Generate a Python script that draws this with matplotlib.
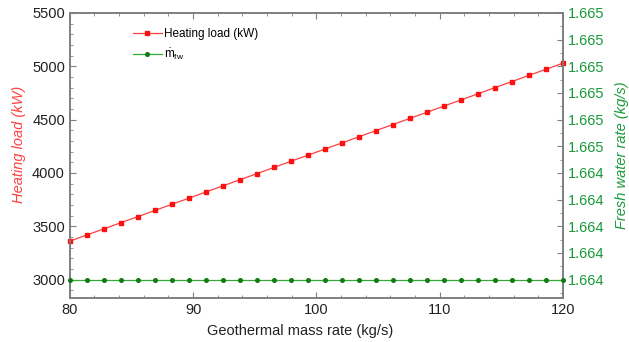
import matplotlib.pyplot as plt
from matplotlib.ticker import MultipleLocator, FixedLocator, FixedFormatter
from matplotlib.lines import Line2D

plt.rcParams['font.family'] = ['Liberation Sans', 'DejaVu Sans']
plt.rcParams['mathtext.fontset'] = 'custom'
plt.rcParams['mathtext.rm'] = 'Liberation Sans'
plt.rcParams['mathtext.it'] = 'Liberation Sans:italic'

# geothermal mass rate (kg/s)
mass_rate = [80.0, 81.38, 82.76, 84.14, 85.52, 86.90, 88.28, 89.66, 91.03, 92.41,
             93.79, 95.17, 96.55, 97.93, 99.31, 100.69, 102.07, 103.45, 104.83, 106.21,
             107.59, 108.97, 110.34, 111.72, 113.10, 114.48, 115.86, 117.24, 118.62, 120.0]
# heating load (kW)
heating_load = [3360, 3418, 3475, 3533, 3590, 3648, 3706, 3763, 3821, 3878,
                3936, 3993, 4051, 4109, 4166, 4224, 4281, 4339, 4397, 4454,
                4512, 4569, 4627, 4684, 4742, 4800, 4857, 4915, 4972, 5030]
# fresh water rate (kg/s)
fresh_water = [1.664] * 30

right_ticks = [1.6640, 1.6641, 1.6642, 1.6643, 1.6644, 1.6645,
               1.6646, 1.6647, 1.6648, 1.6649, 1.6650]
right_labels = ['1.664', '1.664', '1.664', '1.664', '1.664', '1.665',
                '1.665', '1.665', '1.665', '1.665', '1.665']

red = '#ff4040'
green = '#1a9a3a'
spine_grey = '#7f7f7f'

fig = plt.figure(figsize=(6.29, 3.42), dpi=100)
ax1 = fig.add_axes([0.111, 0.129, 0.784, 0.833])
ax2 = ax1.twinx()

ax1.plot(mass_rate, heating_load, color=red, lw=0.9, marker='s', ms=2.6,
         mec='#ff1010', mfc='#ff1010', clip_on=False, zorder=3)
ax2.plot(mass_rate, fresh_water, color='#33aa33', lw=0.9, marker='o', ms=2.6,
         mec='#117a11', mfc='#117a11', clip_on=False, zorder=3)

ylo, yhi = 2828, 5500
ax1.set_xlim(80, 120)
ax1.set_ylim(ylo, yhi)
ax2.set_ylim(1.664 + (ylo - 3000) / 2500 * 0.001, 1.665)

ax1.xaxis.set_major_locator(MultipleLocator(10))
ax1.xaxis.set_minor_locator(MultipleLocator(2))
ax1.yaxis.set_major_locator(MultipleLocator(500))
ax1.yaxis.set_minor_locator(MultipleLocator(100))
ax2.yaxis.set_major_locator(FixedLocator(right_ticks))
ax2.yaxis.set_major_formatter(FixedFormatter(right_labels))
ax2.yaxis.set_minor_locator(MultipleLocator(0.00005))

ax1.tick_params(axis='both', which='both', direction='in', colors=spine_grey,
                labelcolor='#222222', labelsize=10.5, top=True)
ax1.tick_params(which='major', length=4)
ax1.tick_params(which='minor', length=2.5)
ax2.tick_params(axis='y', which='both', direction='in', colors=spine_grey,
                labelcolor=green, labelsize=10.5)
ax2.tick_params(which='major', length=4)
ax2.tick_params(which='minor', length=2.5)

for ax in (ax1, ax2):
    for s in ax.spines.values():
        s.set_color(spine_grey)
        s.set_linewidth(1.2)

ax1.set_xlabel('Geothermal mass rate (kg/s)', fontsize=10.5, color='#222222')
ax1.xaxis.set_label_coords(0.467, -0.092)
ax1.xaxis.label.set_va('top')
ax1.set_ylabel('Heating load (kW)', fontsize=10.5, color=red, style='italic')
ax1.yaxis.set_label_coords(-0.088, 0.54)
ax2.set_ylabel('Fresh water rate (kg/s)', fontsize=10.5, color=green, style='italic',
               labelpad=8)

handles = [Line2D([], [], color=red, lw=0.9, marker='s', ms=2.6,
                  mec='#ff1010', mfc='#ff1010'),
           Line2D([], [], color='#33aa33', lw=0.9, marker='o', ms=2.6,
                  mec='#117a11', mfc='#117a11')]
ax1.legend(handles, ['Heating load (kW)', r'$\dot{\mathrm{m}}_{\mathrm{fw}}$'],
           loc='upper left', bbox_to_anchor=(0.106, 0.985), frameon=False,
           fontsize=8.5, handlelength=2.5, handletextpad=0.15, labelspacing=0.55)

fig.savefig('out.png', dpi=100)
